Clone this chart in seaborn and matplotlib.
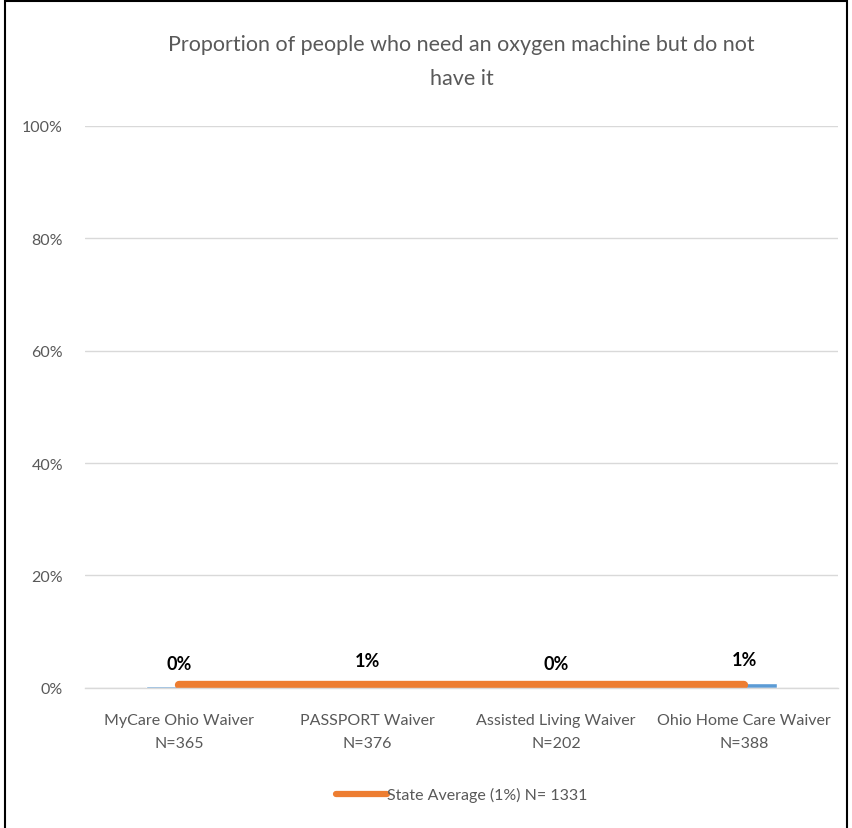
import matplotlib
matplotlib.use("Agg")
import matplotlib.pyplot as plt
import seaborn as sns
import pandas as pd
import numpy as np
from matplotlib.patches import Rectangle

categories = ["MyCare Ohio Waiver", "PASSPORT Waiver", "Assisted Living Waiver", "Ohio Home Care Waiver"]
sample_sizes = ["N=365", "N=376", "N=202", "N=388"]
values = [0.3, 0.8, 0.2, 0.9]
value_labels = ["0%", "1%", "0%", "1%"]
state_average = 0.6
legend_label = "State Average (1%) N= 1331"
title = "Proportion of people who need an oxygen machine but do not\nhave it"
yticks = [0, 20, 40, 60, 80, 100]

sns.set_theme(style="white")
plt.rcParams['font.family'] = ['Lato', 'DejaVu Sans']

fig = plt.figure(figsize=(8.52, 8.29), dpi=100)
ax = fig.add_axes([0.1, 0.169, 0.884, 0.678])

df = pd.DataFrame({"cat": categories, "val": values})
sns.barplot(data=df, x="cat", y="val", color="#5B9BD5", width=0.35, ax=ax, saturation=1)

line_df = pd.DataFrame({"cat": categories, "val": [state_average] * len(categories)})
sns.lineplot(data=line_df, x="cat", y="val", color="#ED7D31", linewidth=6,
             solid_capstyle="round", ax=ax, label=legend_label, sort=False)

for i, (v, lab) in enumerate(zip(values, value_labels)):
    ax.text(i, v + 2.6, lab, ha="center", va="bottom", fontsize=13,
            fontweight="bold", color="#000000")

ax.set_ylim(0, 100)
ax.set_xlim(-0.5, len(categories) - 0.5)
ax.set_yticks(yticks)
ax.set_yticklabels([f"{t}%" for t in yticks], fontsize=11.5, color="#595959")
ax.set_xticks(range(len(categories)))
ax.set_xticklabels([f"{c}\n{n}" for c, n in zip(categories, sample_sizes)],
                   fontsize=11.5, color="#595959", linespacing=1.85)
ax.tick_params(axis="both", length=0, pad=16)
ax.tick_params(axis="x", pad=18)
ax.set_xlabel("")
ax.set_ylabel("")
ax.yaxis.grid(True, color="#D9D9D9", linewidth=1)
ax.set_axisbelow(True)
for s in ["top", "right", "left"]:
    ax.spines[s].set_visible(False)
ax.spines["bottom"].set_color("#D9D9D9")
ax.spines["bottom"].set_linewidth(1)

ax.set_title(title, fontsize=15.5, color="#595959", pad=30, linespacing=1.9)

leg = ax.legend(loc="center", bbox_to_anchor=(0.5, -0.19), frameon=False,
                fontsize=11.5, handlelength=3.2, handletextpad=0.0)
for t in leg.get_texts():
    t.set_color("#595959")
for h in leg.get_lines():
    h.set_linewidth(4.5)

fig.patches.append(Rectangle((0.006, -0.05), 0.988, 1.048, transform=fig.transFigure,
                             fill=False, edgecolor="black", linewidth=1.5))

fig.savefig("out.png", dpi=100)
